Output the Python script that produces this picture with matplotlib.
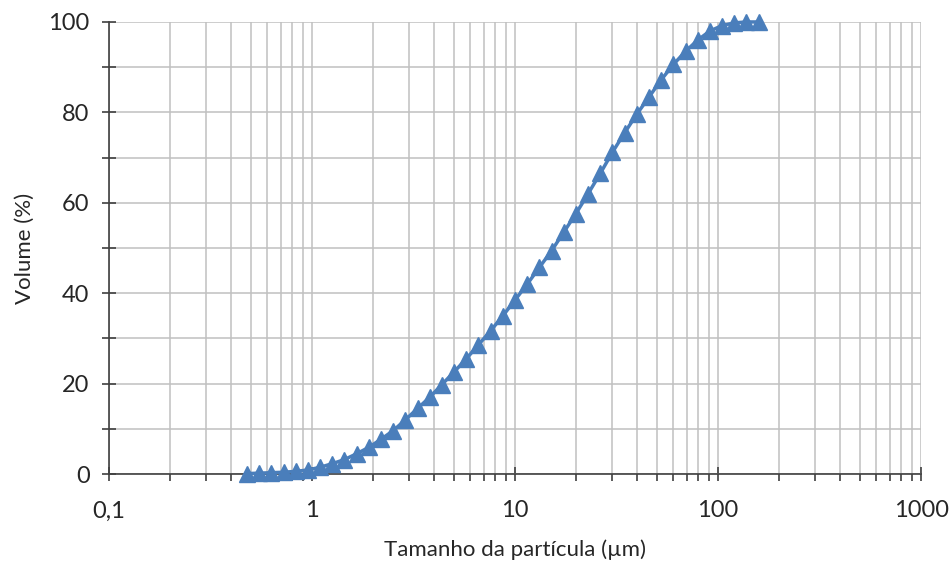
import matplotlib
matplotlib.use("Agg")
import matplotlib.pyplot as plt
from matplotlib.ticker import FixedLocator, FuncFormatter, LogLocator, NullFormatter

plt.rcParams['font.family'] = ['Lato', 'DejaVu Sans']

# particle size classes (um) and cumulative volume (%)
tamanho = [0.479, 0.550, 0.631, 0.724, 0.832, 0.955, 1.096, 1.259, 1.445, 1.660,
           1.905, 2.188, 2.512, 2.884, 3.311, 3.802, 4.365, 5.012, 5.754, 6.607,
           7.586, 8.710, 10.00, 11.48, 13.18, 15.14, 17.38, 19.95, 22.91, 26.30,
           30.20, 34.67, 39.81, 45.71, 52.48, 60.26, 69.18, 79.43, 91.20, 104.7,
           120.2, 138.0, 158.5]
volume = [0.1, 0.2, 0.3, 0.4, 0.6, 0.9, 1.5, 2.3, 3.2, 4.5,
          5.9, 7.7, 9.6, 12.0, 14.5, 17.0, 19.8, 22.6, 25.5, 28.6,
          31.7, 35.0, 38.5, 42.0, 45.7, 49.4, 53.5, 57.6, 62.0, 66.5,
          71.2, 75.5, 79.6, 83.4, 87.2, 90.6, 93.5, 96.0, 98.0, 99.2,
          99.8, 100.0, 100.0]

fig = plt.figure(figsize=(9.52, 5.63), dpi=100)
ax = fig.add_axes([0.1145, 0.158, 0.853, 0.803])

ax.plot(tamanho, volume, color='#4a7ebb', lw=2.5, marker='^', ms=12,
        markeredgecolor='#4a7ebb', zorder=3, clip_on=False)

ax.set_xscale('log')
ax.set_xlim(0.1, 1000)
ax.set_ylim(0, 100)

ax.xaxis.set_major_locator(LogLocator(base=10, numticks=10))
ax.xaxis.set_minor_locator(LogLocator(base=10, subs=range(2, 10), numticks=20))
ax.xaxis.set_minor_formatter(NullFormatter())
ax.xaxis.set_major_formatter(FuncFormatter(lambda v, p: ('%g' % v).replace('.', ',')))
ax.yaxis.set_major_locator(FixedLocator([0, 20, 40, 60, 80, 100]))
ax.yaxis.set_minor_locator(FixedLocator([10, 30, 50, 70, 90]))

ax.grid(True, which='both', color='#c0c0c0', lw=1.1)
ax.set_axisbelow(True)

for s in ['top', 'right']:
    ax.spines[s].set_visible(False)
for s in ['left', 'bottom']:
    ax.spines[s].set_color('#404040')
    ax.spines[s].set_linewidth(1.2)

ax.tick_params(axis='both', which='major', direction='inout', length=10, width=1.2,
               color='#404040', labelsize=17, labelcolor='#262626')
ax.tick_params(axis='y', which='minor', direction='inout', length=10, width=1.2, color='#404040')
ax.tick_params(axis='x', which='minor', direction='out', length=5, width=1.2, color='#404040')
ax.tick_params(axis='x', which='major', pad=14)
ax.tick_params(axis='y', which='major', pad=9)

ax.set_xlabel('Tamanho da partícula (µm)', fontsize=16, color='#262626', labelpad=13)
ax.set_ylabel('Volume (%)', fontsize=16, color='#262626', labelpad=10)

fig.savefig('out.png', dpi=100)
